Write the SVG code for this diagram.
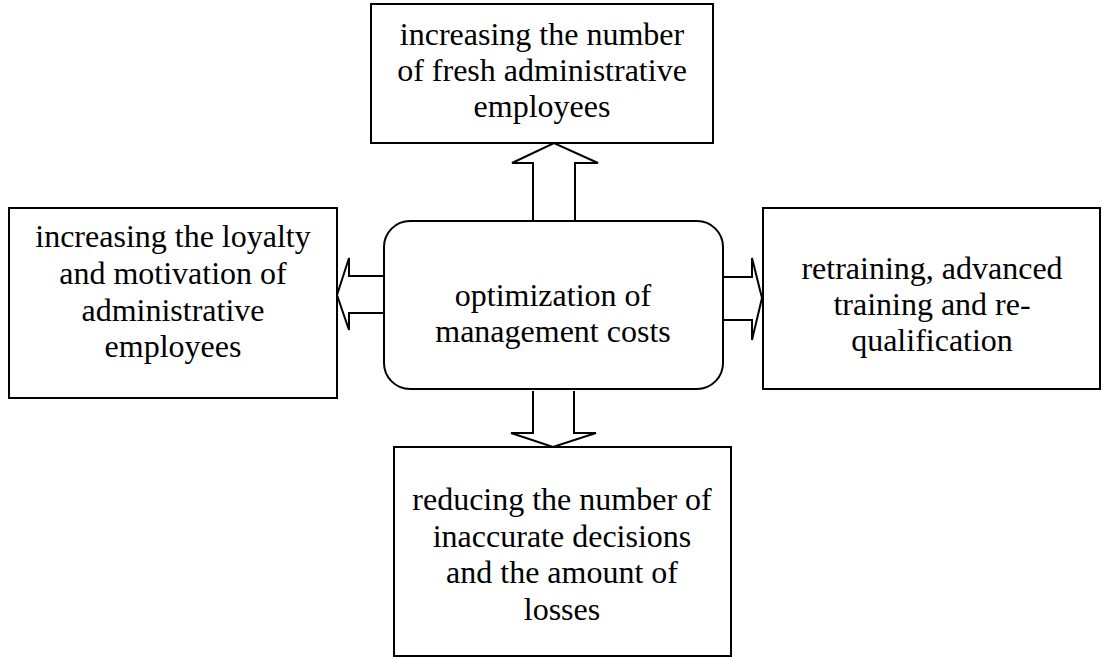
<svg xmlns="http://www.w3.org/2000/svg" width="1103" height="657" viewBox="0 0 1103 657">
<style>
.box{fill:#fff;stroke:#000;stroke-width:2}
.arr{fill:#fff;stroke:#000;stroke-width:2;stroke-linejoin:miter}
text{font-family:"Liberation Serif","Times New Roman",serif;font-size:32px;fill:#000;text-anchor:middle}
</style>
<rect width="1103" height="657" fill="#fff"/>
<g id="connectors">
<path class="arr" d="M533,224 V163 H512 L554,143 L598,163 H575 V224"/>
<path class="arr" d="M723,277 H752 V258 L762,298 L752,340 V320 H723"/>
<path class="arr" d="M385,276 H349 V258 L337,295 L349,330 V313 H385"/>
<path class="arr" d="M533,391 V433 H511 L553,447 L596,433 H574 V391"/>
</g>
<g id="center">
<rect class="box" x="384" y="221" width="339" height="168" rx="26" ry="26"/>
<text x="553" y="306">optimization of</text>
<text x="553" y="342">management costs</text>
</g>
<g id="top">
<rect class="box" x="371" y="4" width="342" height="139"/>
<text x="542" y="45">increasing the number</text>
<text x="542" y="81">of fresh administrative</text>
<text x="542" y="117">employees</text>
</g>
<g id="left">
<rect class="box" x="9" y="208" width="328" height="190"/>
<text x="173" y="247">increasing the loyalty</text>
<text x="173" y="284">and motivation of</text>
<text x="173" y="321">administrative</text>
<text x="173" y="357">employees</text>
</g>
<g id="right">
<rect class="box" x="763" y="208" width="337" height="181"/>
<text x="932" y="279">retraining, advanced</text>
<text x="932" y="315">training and re-</text>
<text x="932" y="351">qualification</text>
</g>
<g id="bottom">
<rect class="box" x="394" y="447" width="337" height="209"/>
<text x="562" y="510">reducing the number of</text>
<text x="562" y="547">inaccurate decisions</text>
<text x="562" y="583">and the amount of</text>
<text x="562" y="620">losses</text>
</g>
</svg>
